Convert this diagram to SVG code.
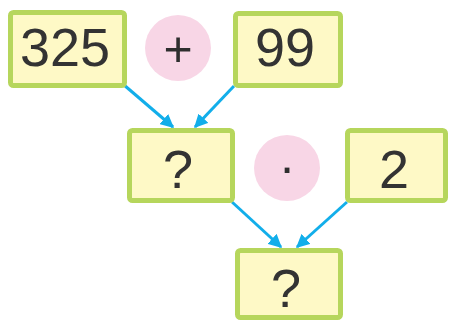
<svg xmlns="http://www.w3.org/2000/svg" width="450" height="320" viewBox="0 0 450 320">
  <defs>
    <marker id="arrow" viewBox="0 0 10 10" refX="9" refY="5" markerWidth="4.5" markerHeight="4.5" orient="auto" markerUnits="strokeWidth">
      <path d="M0,0 L10,5 L0,10 z" fill="#12aeea"/>
    </marker>
    <style>
      .box rect { fill: #fef9c6; stroke: #b6d65c; stroke-width: 5; }
      .box text { font-family: "Liberation Sans", Arial, sans-serif; font-size: 54px; fill: #333333; text-anchor: middle; }
      .op circle { fill: #f8d6e6; }
      .op text { font-family: "Liberation Sans", Arial, sans-serif; font-size: 50px; fill: #2e2e2e; text-anchor: middle; }
      .edge { stroke: #12aeea; stroke-width: 3; fill: none; marker-end: url(#arrow); }
    </style>
  </defs>

  <!-- connectors -->
  <g id="connectors">
    <line class="edge" x1="124" y1="85" x2="173" y2="127"/>
    <line class="edge" x1="234" y1="86" x2="195" y2="127"/>
    <line class="edge" x1="232" y1="202" x2="281" y2="247"/>
    <line class="edge" x1="347" y1="202" x2="297" y2="247"/>
  </g>

  <!-- top row -->
  <g id="n325" class="box">
    <rect x="10.5" y="12.5" width="114" height="73" rx="3"/>
    <text x="65" y="66">325</text>
  </g>
  <g id="plus" class="op">
    <circle cx="178" cy="48" r="33"/>
    <text x="178" y="66">+</text>
  </g>
  <g id="n99" class="box">
    <rect x="235.5" y="13.5" width="105" height="72" rx="3"/>
    <text x="285" y="66">99</text>
  </g>

  <!-- middle row -->
  <g id="sum" class="box">
    <rect x="129.5" y="130.5" width="103" height="70" rx="3"/>
    <text x="178" y="188">?</text>
  </g>
  <g id="times" class="op">
    <circle cx="287" cy="168" r="33"/>
    <text x="287" y="184" font-size="40">·</text>
  </g>
  <g id="n2" class="box">
    <rect x="347.5" y="130.5" width="98" height="70" rx="3"/>
    <text x="394" y="188">2</text>
  </g>

  <!-- bottom row -->
  <g id="product" class="box">
    <rect x="237.5" y="250.5" width="103" height="67" rx="3"/>
    <text x="286" y="307">?</text>
  </g>
</svg>
